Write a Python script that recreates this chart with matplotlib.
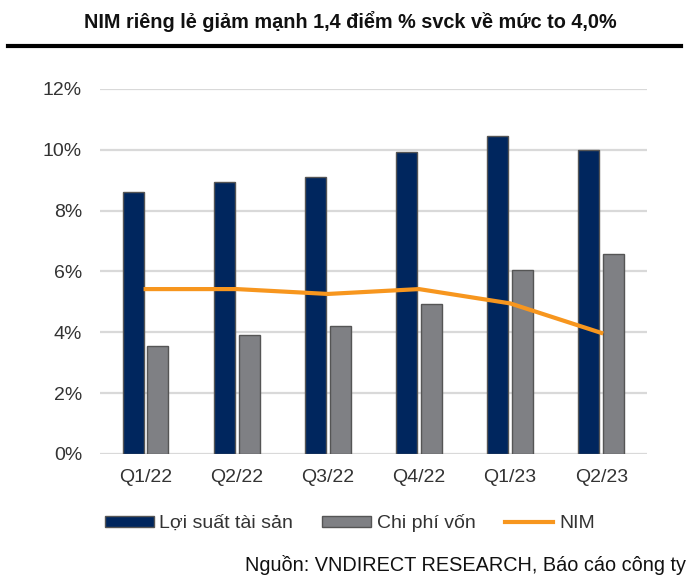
import numpy as np
import matplotlib.pyplot as plt
from matplotlib.lines import Line2D

plt.rcParams['font.family'] = ['Liberation Sans', 'DejaVu Sans']

# data
quarters = ["Q1/22", "Q2/22", "Q3/22", "Q4/22", "Q1/23", "Q2/23"]
loi_suat = [8.62, 8.95, 9.11, 9.93, 10.46, 10.0]
chi_phi = [3.55, 3.91, 4.21, 4.93, 6.05, 6.58]
nim = [5.42, 5.42, 5.26, 5.42, 4.95, 3.98]

navy = "#00265E"
grey = "#7F8084"
orange = "#F7961E"
txt = "#333333"

fig = plt.figure(figsize=(7, 5.85), dpi=100)
ax = fig.add_axes([0.143, 0.224, 0.781, 0.624])

x = np.arange(len(quarters))
w = 0.23
ax.bar(x - w / 2 - 0.02, loi_suat, w, color=navy, edgecolor="#555555", linewidth=1, zorder=3)
ax.bar(x + w / 2 + 0.02, chi_phi, w, color=grey, edgecolor="#555555", linewidth=1, zorder=3)
ax.plot(x, nim, color=orange, linewidth=3, zorder=4)

ax.set_xlim(-0.5, len(quarters) - 0.5)
ax.set_ylim(0, 12)
ax.set_yticks(range(0, 13, 2))
ax.set_yticklabels([f"{v}%" for v in range(0, 13, 2)], fontsize=14)
ax.set_xticks(x)
ax.set_xticklabels(quarters, fontsize=14)
ax.grid(axis="y", color="#D9D9D9", linewidth=1.6, zorder=0)
for s in ax.spines.values():
    s.set_visible(False)
ax.tick_params(axis="y", length=0, pad=13, colors=txt)
ax.tick_params(axis="x", length=0, pad=11, colors=txt)

# title and rule
fig.text(0.5, 0.964, "NIM riêng lẻ giảm mạnh 1,4 điểm % svck về mức to 4,0%",
         ha="center", va="center", fontsize=14.3, fontweight="bold", color="#111111")
fig.add_artist(Line2D([0.011, 0.973], [0.922, 0.922], color="black", linewidth=3))

handles = [
    plt.Rectangle((0, 0), 1, 1, facecolor=navy, edgecolor="#555555"),
    plt.Rectangle((0, 0), 1, 1, facecolor=grey, edgecolor="#555555"),
    Line2D([], [], color=orange, linewidth=3),
]
fig.legend(handles, ["Lợi suất tài sản", "Chi phí vốn", "NIM"], loc="center",
           bbox_to_anchor=(0.5, 0.106), ncol=3, frameon=False, fontsize=14,
           labelcolor=txt, handlelength=2.5, handleheight=0.5, handletextpad=0.3,
           columnspacing=1.5)

fig.text(0.98, 0.034, "Nguồn: VNDIRECT RESEARCH, Báo cáo công ty",
         ha="right", va="center", fontsize=14.3, color="#111111")

fig.savefig("out.png", dpi=100)
